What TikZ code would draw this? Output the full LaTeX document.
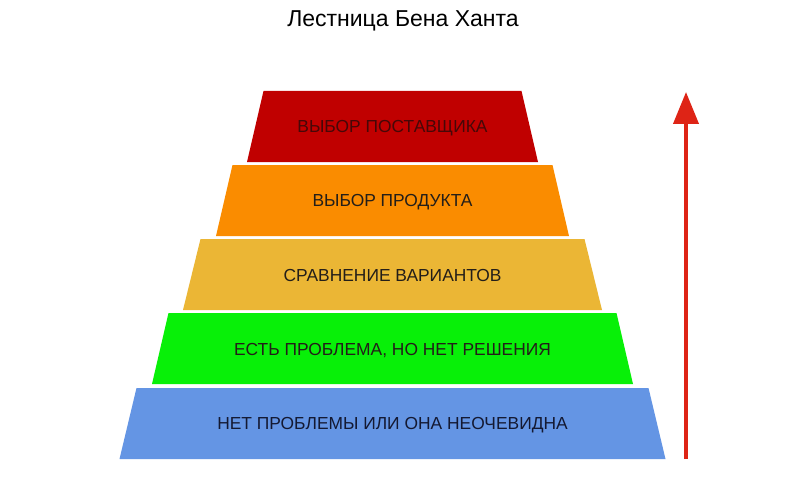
\documentclass[tikz,border=0pt]{standalone}
\usepackage{fontspec}
\setmainfont{Liberation Sans}
\usetikzlibrary{arrows.meta}
\definecolor{lvred}{RGB}{192,0,0}
\definecolor{lvorange}{RGB}{250,140,0}
\definecolor{lvyellow}{RGB}{235,182,53}
\definecolor{lvgreen}{RGB}{8,240,8}
\definecolor{lvblue}{RGB}{100,149,228}
\definecolor{arrred}{RGB}{222,36,22}
\definecolor{txtdark}{RGB}{35,30,25}
\definecolor{txtblue}{RGB}{20,25,50}
\definecolor{txtred}{RGB}{70,8,8}
\tikzset{
  lvtext/.style={font=\fontsize{17.4}{20}\selectfont, text=txtdark, inner sep=0pt},
  titletext/.style={font=\fontsize{23}{27}\selectfont, text=black, inner sep=0pt},
}
\begin{document}
\begin{tikzpicture}[x=1pt,y=-1pt]
\useasboundingbox (0,0) rectangle (807,495);
\fill[white] (0,0) rectangle (807,495);
\def\cx{392.5}
% levels: top y, bottom y, top half-width, bottom half-width
\fill[lvred]    (\cx-129,91)  -- (\cx+129,91)  -- (\cx+145.5,162) -- (\cx-145.5,162) -- cycle;
\fill[lvorange] (\cx-160,165) -- (\cx+160,165) -- (\cx+176.5,236) -- (\cx-176.5,236) -- cycle;
\fill[lvyellow] (\cx-192,239) -- (\cx+192,239) -- (\cx+209.5,310) -- (\cx-209.5,310) -- cycle;
\fill[lvgreen]  (\cx-224,313) -- (\cx+224,313) -- (\cx+240.5,384) -- (\cx-240.5,384) -- cycle;
\fill[lvblue]   (\cx-256,388) -- (\cx+256,388) -- (\cx+273,459) -- (\cx-273,459) -- cycle;
\node[titletext] (title) at (403,21) {Лестница Бена Ханта};
\node[lvtext, text=txtred] (l1) at (\cx,128.5) {ВЫБОР ПОСТАВЩИКА};
\node[lvtext] (l2) at (\cx,202.5) {ВЫБОР ПРОДУКТА};
\node[lvtext] (l3) at (\cx,276) {СРАВНЕНИЕ ВАРИАНТОВ};
\node[lvtext] (l4) at (\cx,350.5) {ЕСТЬ ПРОБЛЕМА, НО НЕТ РЕШЕНИЯ};
\node[lvtext, text=txtblue] (l5) at (\cx,425) {НЕТ ПРОБЛЕМЫ ИЛИ ОНА НЕОЧЕВИДНА};
\coordinate (abot) at (686,459);
\coordinate (atop) at (686,92);
\draw[arrred, line width=4pt, -{Triangle[width=25pt,length=32pt]}] (abot) -- (atop);
\end{tikzpicture}
\end{document}
